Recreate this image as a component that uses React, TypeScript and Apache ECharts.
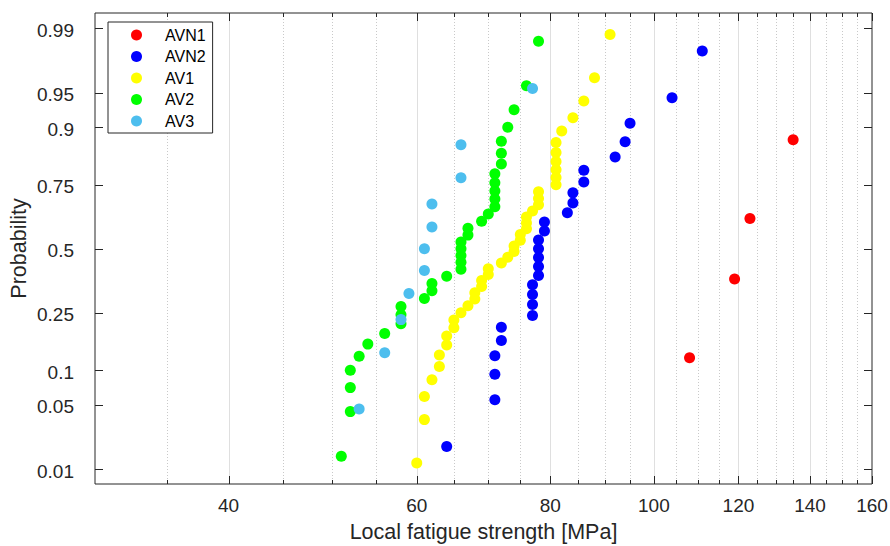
import React, { useEffect, useRef } from "react";
import * as echarts from "echarts";

// ---- data (Local fatigue strength in MPa, sorted per group) ----
const seriesNames = ["AVN1", "AVN2", "AV1", "AV2", "AV3"];
const seriesColors = ["#FF0000", "#0000FF", "#FFFF00", "#00FF00", "#4DBEEE"];
const avn1 = [108, 119, 123, 135];
const avn2 = [64, 71, 71, 71, 72, 72, 77, 77, 77, 77, 78, 78, 78, 78, 78, 79, 79, 83, 84, 84, 86, 86, 92, 94, 95, 104, 111];
const av1 = [60, 61, 61, 62, 63, 63, 64, 64, 65, 65, 66, 67, 68, 68, 69, 69, 70, 70, 72, 73, 74, 74, 75, 75, 76, 76, 76, 77, 78, 78, 78, 81, 81, 81, 81, 81, 81, 82, 84, 86, 88, 91];
const av2 = [51, 52, 52, 52, 53, 54, 56, 58, 58, 58, 61, 62, 62, 64, 66, 66, 66, 66, 66, 67, 67, 69, 70, 71, 71, 71, 71, 71, 72, 72, 72, 73, 74, 76, 78];
const av3 = [53, 56, 58, 59, 61, 61, 62, 62, 66, 66, 77];
const seriesValues = [avn1, avn2, av1, av2, av3];

// ---- axes ----
const xMajorTicks = [40, 60, 80, 100, 120, 140, 160];
const xMinorTicks = [35, 45, 50, 55, 65, 70, 75, 85, 90, 95, 105, 110, 115, 125, 130, 135, 145, 150, 155];
const yTickProbs = [0.01, 0.05, 0.1, 0.25, 0.5, 0.75, 0.9, 0.95, 0.99];
const yTickLabels = ["0.01", "0.05", "0.1", "0.25", "0.5", "0.75", "0.9", "0.95", "0.99"];
const X_MIN = 30;
const X_MAX = 160;
const Y_MIN = -2.482;
const Y_MAX = 2.487;

const FONT = '"Liberation Sans", Arial, Helvetica, sans-serif';
const AXIS = "#262626";
const GRID_MAJOR = "#dfdfdf";
const GRID_MINOR = "#c9c9c9";

// inverse standard normal CDF (Acklam)
function norminv(p: number): number {
  const a = [-3.969683028665376e1, 2.209460984245205e2, -2.759285104469687e2, 1.38357751867269e2, -3.066479806614716e1, 2.506628277459239];
  const b = [-5.447609879822406e1, 1.615858368580409e2, -1.556989798598866e2, 6.680131188771972e1, -1.328068155288572e1];
  const c = [-7.784894002430293e-3, -3.223964580411365e-1, -2.400758277161838, -2.549732539343734, 4.374664141464968, 2.938163982698783];
  const d = [7.784695709041462e-3, 3.224671290700398e-1, 2.445134137142996, 3.754408661907416];
  const plow = 0.02425;
  if (p < plow) {
    const q = Math.sqrt(-2 * Math.log(p));
    return (((((c[0] * q + c[1]) * q + c[2]) * q + c[3]) * q + c[4]) * q + c[5]) / ((((d[0] * q + d[1]) * q + d[2]) * q + d[3]) * q + 1);
  }
  if (p <= 1 - plow) {
    const q = p - 0.5;
    const r = q * q;
    return ((((((a[0] * r + a[1]) * r + a[2]) * r + a[3]) * r + a[4]) * r + a[5]) * q) / (((((b[0] * r + b[1]) * r + b[2]) * r + b[3]) * r + b[4]) * r + 1);
  }
  const q = Math.sqrt(-2 * Math.log(1 - p));
  return -(((((c[0] * q + c[1]) * q + c[2]) * q + c[3]) * q + c[4]) * q + c[5]) / ((((d[0] * q + d[1]) * q + d[2]) * q + d[3]) * q + 1);
}

function xTickSeries(values: number[], major: boolean) {
  return {
    type: "custom",
    name: major ? "xMajor" : "xMinor",
    z: 1,
    silent: true,
    clip: false,
    data: values.map((v) => [v, Y_MIN]),
    renderItem: (_params: any, api: any) => {
      const v = api.value(0);
      const b = api.coord([v, Y_MIN]);
      const t = api.coord([v, Y_MAX]);
      const x = Math.round(b[0]) + 0.5;
      const yb = b[1];
      const yt = t[1];
      const len = major ? 8 : 4;
      const children: any[] = [];
      if (v > X_MIN && v < X_MAX) {
        children.push({
          type: "line",
          shape: { x1: x, y1: yt, x2: x, y2: yb },
          style: { stroke: major ? GRID_MAJOR : GRID_MINOR, lineWidth: 1, lineDash: major ? null : [1, 2] },
        });
      }
      children.push({ type: "line", shape: { x1: x, y1: yb, x2: x, y2: yb - len }, style: { stroke: AXIS, lineWidth: 1 } });
      children.push({ type: "line", shape: { x1: x, y1: yt, x2: x, y2: yt + len }, style: { stroke: AXIS, lineWidth: 1 } });
      if (major) {
        children.push({
          type: "text",
          x: b[0],
          y: yb + 21,
          style: { text: String(v), fill: AXIS, fontSize: 19, fontFamily: FONT, align: "center", verticalAlign: "middle" },
        });
      }
      return { type: "group", children };
    },
  };
}

function yTickSeries() {
  return {
    type: "custom",
    name: "yTicks",
    z: 1,
    silent: true,
    clip: false,
    data: yTickProbs.map((p, i) => [X_MIN, norminv(p), i]),
    renderItem: (_params: any, api: any) => {
      const z = api.value(1);
      const idx = api.value(2);
      const l = api.coord([X_MIN, z]);
      const r = api.coord([X_MAX, z]);
      const y = Math.round(l[1]) + 0.5;
      return {
        type: "group",
        children: [
          { type: "line", shape: { x1: l[0], y1: y, x2: l[0] + 8, y2: y }, style: { stroke: AXIS, lineWidth: 1 } },
          { type: "line", shape: { x1: r[0], y1: y, x2: r[0] - 8, y2: y }, style: { stroke: AXIS, lineWidth: 1 } },
          {
            type: "text",
            x: l[0] - 21,
            y: l[1] + 2,
            style: { text: yTickLabels[idx], fill: AXIS, fontSize: 19, fontFamily: FONT, align: "right", verticalAlign: "middle" },
          },
        ],
      };
    },
  };
}

export default function App() {
  const ref = useRef<HTMLDivElement>(null);
  useEffect(() => {
    document.body.style.margin = "0";
    const chart = echarts.init(ref.current!, null, { renderer: "svg" });
    const scatter = seriesNames.map((name, k) => {
      const vals = seriesValues[k];
      const n = vals.length;
      return {
        type: "scatter",
        name,
        symbol: "circle",
        symbolSize: 11,
        silent: true,
        z: 3,
        itemStyle: { color: seriesColors[k], opacity: 1 },
        data: vals.map((v, i) => [v, norminv((i + 0.5) / n)]),
      };
    });
    chart.setOption({
      animation: false,
      backgroundColor: "#ffffff",
      grid: {
        left: 95,
        right: 18,
        top: 13,
        bottom: 62,
        show: true,
        borderColor: AXIS,
        borderWidth: 1,
        backgroundColor: "transparent",
        containLabel: false,
        outerBoundsMode: "none",
      },
      xAxis: {
        type: "log",
        logBase: 10,
        min: X_MIN,
        max: X_MAX,
        name: "Local fatigue strength [MPa]",
        nameLocation: "middle",
        nameGap: 37,
        nameTextStyle: { fontSize: 21.5, color: AXIS, fontFamily: FONT },
        axisLine: { show: false },
        axisTick: { show: false },
        axisLabel: { show: false },
        splitLine: { show: false },
        minorTick: { show: false },
      },
      yAxis: {
        type: "value",
        min: Y_MIN,
        max: Y_MAX,
        name: "Probability",
        nameLocation: "middle",
        nameGap: 65,
        nameTextStyle: { fontSize: 21.5, color: AXIS, fontFamily: FONT },
        axisLine: { show: false },
        axisTick: { show: false },
        axisLabel: { show: false },
        splitLine: { show: false },
      },
      legend: {
        orient: "vertical",
        left: 108,
        top: 22,
        data: seriesNames,
        icon: "circle",
        itemWidth: 47,
        itemHeight: 11,
        itemGap: 5.5,
        padding: [5, 7, 4, 23],
        borderColor: AXIS,
        borderWidth: 1,
        backgroundColor: "#ffffff",
        selectedMode: false,
        textStyle: { fontSize: 16, color: "#000000", fontFamily: FONT, lineHeight: 16 },
      },
      series: [xTickSeries(xMinorTicks, false), xTickSeries(xMajorTicks, true), yTickSeries(), ...scatter],
    });
    return () => chart.dispose();
  }, []);
  return <div ref={ref} style={{ width: 890, height: 546 }} />;
}
